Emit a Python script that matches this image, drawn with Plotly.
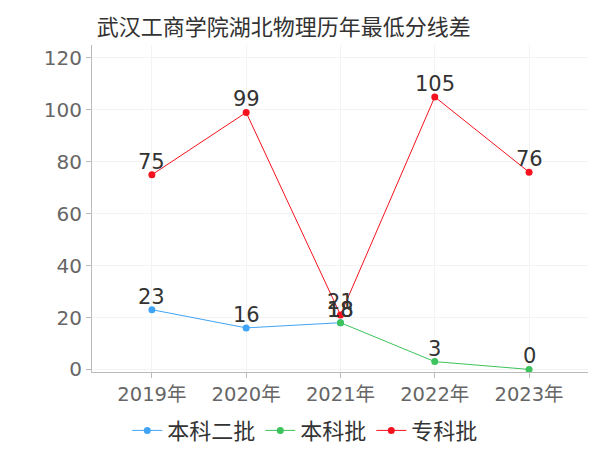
import plotly.graph_objs as go

years = ['2019年', '2020年', '2021年', '2022年', '2023年']

# 本科二批 only up to 2021, 本科批 from 2021
benke2_years = ['2019年', '2020年', '2021年']
benke2_vals = [23, 16, 18]
benke_years = ['2021年', '2022年', '2023年']
benke_vals = [18, 3, 0]
zhuanke_years = years
zhuanke_vals = [75, 99, 21, 105, 76]

series = [
    ('本科二批', benke2_years, benke2_vals, '#3fa4f6'),
    ('本科批', benke_years, benke_vals, '#3cc35c'),
    ('专科批', zhuanke_years, zhuanke_vals, '#f5121e'),
]

FONT = 'DejaVu Sans, Noto Sans CJK SC, sans-serif'

fig = go.Figure()
for name, xs, ys, color in series:
    fig.add_trace(go.Scatter(
        x=xs, y=ys, name=name, mode='lines+markers',
        line=dict(color=color, width=1),
        marker=dict(color=color, size=7),
    ))
    # value labels sit just above each point
    for x, y in zip(xs, ys):
        fig.add_annotation(x=x, y=y, text=str(y), showarrow=False,
                           yanchor='middle', yshift=13,
                           font=dict(size=21, color='#333333'))

# page body has an 8px margin, so margins are shifted by 8px
fig.update_layout(
    width=600, height=450,
    margin=dict(l=84, r=20, t=37, b=86, autoexpand=False),
    paper_bgcolor='white', plot_bgcolor='white',
    font=dict(family=FONT),
    title=dict(text='武汉工商学院湖北物理历年最低分线差', x=0.148, xanchor='left', y=0.975, yanchor='top',
               pad=dict(l=0, t=0), font=dict(size=22, color='#333333', family='Noto Sans CJK SC')),
    showlegend=True,
    legend=dict(orientation='h', x=0.43, xanchor='center', y=-0.115, yanchor='top',
                font=dict(size=22, color='#333333', family='Noto Sans CJK SC'),
                itemwidth=30, tracegroupgap=0),
)
fig.update_xaxes(
    type='category', categoryorder='array', categoryarray=years,
    range=[-0.635, 4.625], automargin=False,
    showgrid=True, gridcolor='#f3f3f3',
    showline=True, linecolor='#bbbbbb', ticks='outside', tickcolor='#bbbbbb', ticklen=5,
    tickfont=dict(size=19.5, color='#666666'),
)
fig.update_yaxes(
    range=[-1, 125], dtick=20, automargin=False,
    showgrid=True, gridcolor='#f3f3f3', zeroline=False,
    showline=True, linecolor='#bbbbbb', ticks='outside', tickcolor='#bbbbbb', ticklen=5,
    tickfont=dict(size=20, color='#666666'),
)

fig.write_html('out.html')
